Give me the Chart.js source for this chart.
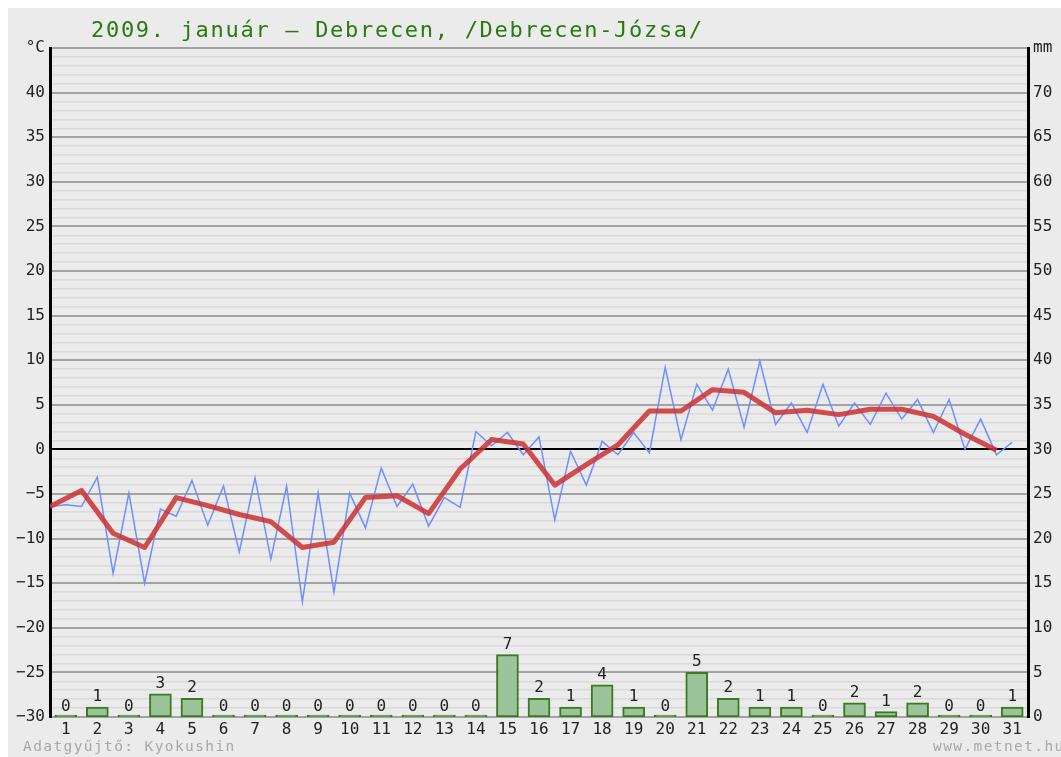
<!DOCTYPE html>
<html>
<head>
<meta charset="utf-8">
<script src="https://cdn.jsdelivr.net/npm/chart.js@4.4.0/dist/chart.umd.min.js"></script>
<style>
  body { margin: 0; background: #fff; }
  #wrap { position: relative; width: 1061px; height: 757px; overflow: hidden; }
  #bg { position: absolute; left: 8px; top: 8px; right: 0; bottom: 0; background: #ebebeb; }
  #c { position: absolute; left: 0; top: 0; }
  .txt { position: absolute; font-family: "DejaVu Sans Mono", monospace; white-space: nowrap; }
  #title { left: 91px; top: 19px; font-size: 22px; line-height: 22px; letter-spacing: 1.7px; color: #2a7a10; }
  .foot { top: 739px; font-size: 14.5px; line-height: 14.5px; letter-spacing: 1.4px; color: #a8a8a8; }
</style>
</head>
<body>
<div id="wrap">
  <div id="bg"></div>
  <canvas id="c" width="1061" height="757"></canvas>
  <div class="txt" id="title">2009. január – Debrecen, /Debrecen-Józsa/</div>
  <div class="txt foot" style="left:23px">Adatgyűjtő: Kyokushin</div>
  <div class="txt foot" style="left:933px">www.metnet.hu</div>
</div>
<script>
// ── data ────────────────────────────────────────────────────
const days = [1,2,3,4,5,6,7,8,9,10,11,12,13,14,15,16,17,18,19,20,21,22,23,24,25,26,27,28,29,30,31];

// daily min / max (°C), blue line: min at day start, max half a day later
const tMin = [-6.4,-6.4,-13.9,-15.0,-7.5,-8.5,-11.5,-12.3,-17.1,-16.0,-8.8,-6.4,-8.6,-6.5,0.4,-0.6,
              -7.9,-4.0,-0.6,-0.4,1.1,4.4,2.5,2.8,1.9,2.6,2.8,3.4,1.9,0.0,-0.6];
const tMax = [-6.2,-3.1,-4.9,-6.7,-3.5,-4.1,-3.2,-4.1,-4.9,-4.9,-2.1,-3.9,-5.4,2.0,1.9,1.4,
              -0.2,0.9,1.9,9.2,7.3,9.0,9.9,5.2,7.3,5.2,6.3,5.6,5.6,3.4,0.8];

// daily mean (°C), red line
const tAvg = [-6.4,-4.6,-9.4,-11.0,-5.4,-6.3,-7.3,-8.1,-11.0,-10.4,-5.4,-5.2,-7.2,-2.2,1.1,0.6,
              -4.0,-1.7,0.5,4.3,4.3,6.7,6.4,4.1,4.4,3.9,4.5,4.5,3.7,1.7,-0.1];

// precipitation (mm), bars + printed labels
const precip       = [0,1.1,0,2.6,2.1,0,0,0,0,0,0,0,0,0,7.0,2.1,1.1,3.6,1.1,0,5.0,2.1,1.1,1.1,0,1.6,0.6,1.6,0,0,1.1];
const precipLabels = [0,1,0,3,2,0,0,0,0,0,0,0,0,0,7,2,1,4,1,0,5,2,1,1,0,2,1,2,0,0,1];

const tempTicks = [];   // every degree, -30 .. 45
for (let v = -30; v <= 45; v++) tempTicks.push(v);
const mmTicks = [0,5,10,15,20,25,30,35,40,45,50,55,60,65,70,75];

// ── chart ───────────────────────────────────────────────────
Chart.defaults.font.family = '"DejaVu Sans Mono", monospace';
Chart.defaults.font.size = 16;
Chart.defaults.color = '#222';

const bluePts = [];
days.forEach((d, i) => {
  bluePts.push({ x: d, y: tMin[i] });
  bluePts.push({ x: d + 0.5, y: tMax[i] });
});

const barLabels = {
  id: 'barLabels',
  afterDatasetsDraw(chart) {
    const meta = chart.getDatasetMeta(2);
    const ys = chart.scales.y2;
    const ctx = chart.ctx;
    ctx.save();
    ctx.font = '16px "DejaVu Sans Mono", monospace';
    ctx.fillStyle = '#222';
    ctx.textAlign = 'center';
    ctx.textBaseline = 'alphabetic';
    meta.data.forEach((bar, i) => {
      ctx.fillText(String(precipLabels[i]), bar.x, ys.getPixelForValue(precip[i]) - 6);
    });
    ctx.restore();
  }
};

new Chart(document.getElementById('c'), {
  data: {
    datasets: [
      { type: 'line', data: days.map((d, i) => ({ x: d, y: tAvg[i] })), yAxisID: 'y',
        borderColor: 'rgba(204,48,48,0.85)', borderWidth: 5, pointRadius: 0, tension: 0,
        borderJoinStyle: 'round', order: 1 },
      { type: 'line', data: bluePts, yAxisID: 'y',
        borderColor: '#6f8fff', borderWidth: 1.5, pointRadius: 0, tension: 0, order: 2 },
      { type: 'bar', data: days.map((d, i) => ({ x: d + 0.5, y: precip[i] })), yAxisID: 'y2',
        backgroundColor: '#9cc49a', borderColor: '#3b7b1f', borderWidth: 2, borderSkipped: false,
        barThickness: 22, minBarLength: 2, order: 3 }
    ]
  },
  options: {
    responsive: false,
    animation: false,
    layout: { padding: { top: 48 } },
    plugins: { legend: { display: false }, tooltip: { enabled: false } },
    scales: {
      x: {
        type: 'linear', min: 1, max: 32, offset: false,
        afterBuildTicks: s => { s.ticks = days.map(d => ({ value: d + 0.5 })); },
        ticks: { callback: v => String(Math.round(v - 0.5)), autoSkip: false, maxRotation: 0, padding: 3 },
        grid: { display: false, drawTicks: false },
        border: { display: false },
        afterFit: s => { s.height = 40; }
      },
      y: {
        position: 'left', min: -30, max: 45,
        afterBuildTicks: s => { s.ticks = tempTicks.map(v => ({ value: v })); },
        ticks: {
          callback: v => v === 45 ? '°C' : (v % 5 === 0 ? String(v).replace('-', '\u2212') : ''),
          autoSkip: false, padding: 5
        },
        grid: {
          drawTicks: false,
          color: c => c.tick.value === 0 ? '#000' : (c.tick.value % 5 === 0 ? '#a3a3a3' : '#dadada'),
          lineWidth: c => c.tick.value % 5 === 0 ? 2 : 1.5
        },
        border: { color: '#000', width: 3 },
        afterFit: s => { s.width = 50; }
      },
      y2: {
        position: 'right', min: 0, max: 75,
        afterBuildTicks: s => { s.ticks = mmTicks.map(v => ({ value: v })); },
        ticks: { callback: v => v === 75 ? 'mm' : String(v), autoSkip: false, padding: 5 },
        grid: { display: false, drawTicks: false },
        border: { display: true, color: '#000', width: 3 },
        afterFit: s => { s.width = 33; }
      }
    }
  },
  plugins: [barLabels]
});
</script>
</body>
</html>
